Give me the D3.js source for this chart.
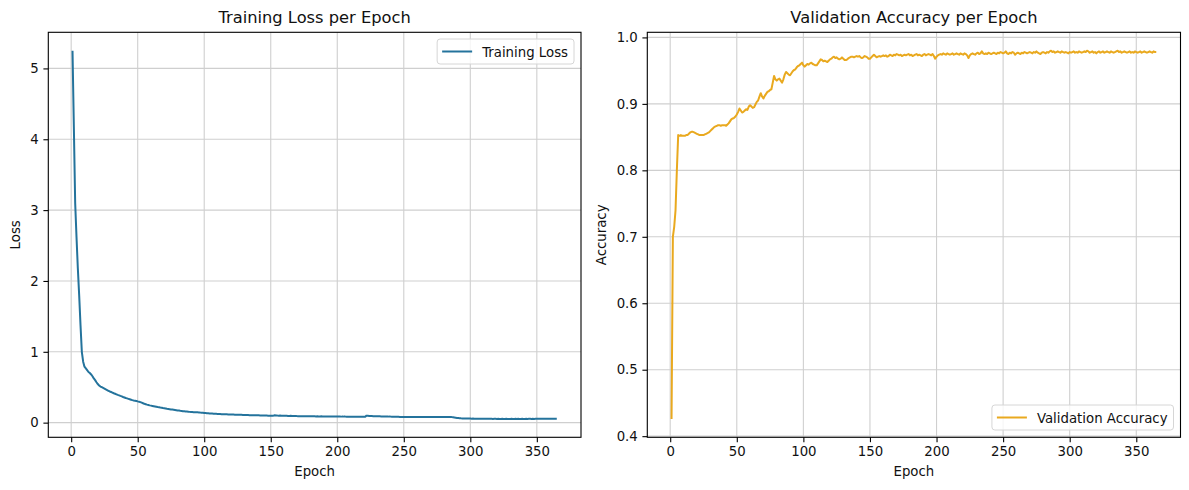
<!DOCTYPE html>
<html>
<head>
<meta charset="utf-8">
<script src="https://cdn.jsdelivr.net/npm/d3@7/dist/d3.min.js"></script>
<style>
  html, body { margin: 0; padding: 0; background: #fff; }
  svg { display: block; font-family: "DejaVu Sans", sans-serif; }
</style>
</head>
<body>
<svg id="chart" width="1189" height="490"></svg>
<script>
// epochs 1..365
const epochs = d3.range(1, 366);

const xTicks = [0, 50, 100, 150, 200, 250, 300, 350];
const lossTicks = [0, 1, 2, 3, 4, 5];
const accTicks = [0.4, 0.5, 0.6, 0.7, 0.8, 0.9, 1.0];

// training loss
const trainLoss = [
  5.25, 4.18, 3.10, 2.62, 2.18, 1.80, 1.38, 1.00, 0.86, 0.79,
  0.765, 0.74, 0.715, 0.70, 0.68, 0.655, 0.625, 0.60, 0.57, 0.545,
  0.525, 0.51, 0.50, 0.49, 0.48, 0.47, 0.46, 0.45, 0.44, 0.432,
  0.424, 0.415, 0.408, 0.400, 0.392, 0.385, 0.377, 0.370, 0.362, 0.355,
  0.348, 0.342, 0.336, 0.330, 0.324, 0.318, 0.313, 0.310, 0.306, 0.300,
  0.296, 0.290, 0.282, 0.274, 0.266, 0.260, 0.254, 0.249, 0.244, 0.240,
  0.236, 0.232, 0.228, 0.224, 0.220, 0.217, 0.213, 0.210, 0.206, 0.203,
  0.200, 0.196, 0.193, 0.190, 0.187, 0.184, 0.181, 0.178, 0.175, 0.172,
  0.170, 0.167, 0.165, 0.162, 0.160, 0.158, 0.156, 0.154, 0.152, 0.150,
  0.149, 0.147, 0.146, 0.146, 0.145, 0.144, 0.142, 0.141, 0.139, 0.137,
  0.135, 0.133, 0.132, 0.130, 0.129, 0.128, 0.126, 0.125, 0.124, 0.123,
  0.122, 0.121, 0.120, 0.119, 0.118, 0.118, 0.117, 0.116, 0.116, 0.115,
  0.114, 0.114, 0.113, 0.112, 0.112, 0.111, 0.110, 0.110, 0.109, 0.109,
  0.108, 0.108, 0.107, 0.106, 0.106, 0.105, 0.105, 0.104, 0.104, 0.103,
  0.103, 0.102, 0.102, 0.101, 0.101, 0.100, 0.100, 0.099, 0.099, 0.098,
  0.098, 0.099, 0.104, 0.102, 0.100, 0.099, 0.101, 0.098, 0.097, 0.097,
  0.096, 0.097, 0.095, 0.095, 0.096, 0.094, 0.094, 0.093, 0.094, 0.092,
  0.092, 0.091, 0.092, 0.091, 0.091, 0.090, 0.090, 0.091, 0.090, 0.089,
  0.090, 0.089, 0.089, 0.088, 0.089, 0.088, 0.088, 0.089, 0.088, 0.087,
  0.088, 0.087, 0.087, 0.088, 0.087, 0.086, 0.087, 0.086, 0.086, 0.087,
  0.086, 0.086, 0.085, 0.086, 0.085, 0.085, 0.084, 0.085, 0.084, 0.084,
  0.084, 0.083, 0.084, 0.083, 0.083, 0.082, 0.083, 0.082, 0.082, 0.082,
  0.083, 0.099, 0.097, 0.095, 0.094, 0.093, 0.092, 0.091, 0.091, 0.090,
  0.089, 0.089, 0.088, 0.088, 0.087, 0.087, 0.086, 0.086, 0.085, 0.085,
  0.084, 0.084, 0.083, 0.083, 0.082, 0.082, 0.081, 0.081, 0.080, 0.080,
  0.080, 0.079, 0.080, 0.079, 0.079, 0.080, 0.079, 0.078, 0.079, 0.078,
  0.079, 0.078, 0.079, 0.078, 0.078, 0.079, 0.078, 0.078, 0.079, 0.078,
  0.078, 0.079, 0.078, 0.078, 0.079, 0.078, 0.078, 0.079, 0.078, 0.079,
  0.078, 0.079, 0.079, 0.080, 0.079, 0.078, 0.076, 0.073, 0.070, 0.067,
  0.065, 0.063, 0.061, 0.060, 0.059, 0.058, 0.058, 0.057, 0.057, 0.057,
  0.056, 0.057, 0.056, 0.056, 0.055, 0.056, 0.055, 0.055, 0.055, 0.054,
  0.055, 0.054, 0.054, 0.055, 0.054, 0.054, 0.053, 0.054, 0.054, 0.053,
  0.054, 0.053, 0.053, 0.054, 0.053, 0.053, 0.054, 0.053, 0.053, 0.053,
  0.054, 0.053, 0.053, 0.054, 0.053, 0.054, 0.053, 0.053, 0.054, 0.053,
  0.053, 0.054, 0.053, 0.054, 0.054, 0.053, 0.054, 0.053, 0.054, 0.054,
  0.055, 0.054, 0.054, 0.055, 0.054, 0.055, 0.054, 0.055, 0.055, 0.054,
  0.055, 0.055, 0.054, 0.055, 0.055
];

// validation accuracy
const valAcc = [
  0.426, 0.700, 0.715, 0.740, 0.800, 0.853, 0.852, 0.853, 0.852, 0.852,
  0.852, 0.853, 0.853, 0.855, 0.857, 0.858, 0.858, 0.857, 0.856, 0.855,
  0.854, 0.853, 0.853, 0.853, 0.853, 0.854, 0.855, 0.856, 0.857, 0.859,
  0.861, 0.863, 0.865, 0.866, 0.867, 0.868, 0.868, 0.867, 0.868, 0.868,
  0.868, 0.867, 0.869, 0.871, 0.874, 0.877, 0.878, 0.879, 0.881, 0.884,
  0.888, 0.893, 0.890, 0.887, 0.888, 0.890, 0.892, 0.891, 0.896, 0.898,
  0.896, 0.894, 0.895, 0.899, 0.903, 0.905, 0.911, 0.916, 0.911, 0.908,
  0.912, 0.915, 0.918, 0.919, 0.921, 0.922, 0.932, 0.942, 0.937, 0.935,
  0.937, 0.938, 0.935, 0.932, 0.937, 0.944, 0.948, 0.946, 0.944, 0.943,
  0.946, 0.949, 0.951, 0.952, 0.955, 0.957, 0.958, 0.960, 0.962, 0.958,
  0.956, 0.958, 0.960, 0.959, 0.961, 0.962, 0.960, 0.959, 0.958, 0.958,
  0.961, 0.964, 0.967, 0.966, 0.964, 0.965, 0.964, 0.963, 0.965, 0.967,
  0.968, 0.970, 0.971, 0.969, 0.970, 0.968, 0.967, 0.968, 0.970, 0.968,
  0.966, 0.966, 0.967, 0.969, 0.970, 0.971, 0.971, 0.970, 0.971, 0.972,
  0.971, 0.972, 0.970, 0.969, 0.970, 0.972, 0.971, 0.970, 0.968, 0.968,
  0.970, 0.972, 0.974, 0.972, 0.970, 0.971, 0.972, 0.971, 0.972, 0.973,
  0.972, 0.973, 0.971, 0.972, 0.974, 0.973, 0.972, 0.974, 0.973, 0.975,
  0.974, 0.973, 0.974, 0.972, 0.973, 0.974, 0.973, 0.974, 0.975, 0.973,
  0.974, 0.972, 0.973, 0.974, 0.975, 0.973, 0.974, 0.973, 0.972, 0.974,
  0.975, 0.973, 0.974, 0.975, 0.974, 0.973, 0.975, 0.972, 0.968, 0.971,
  0.973, 0.974, 0.975, 0.974, 0.976, 0.975, 0.974, 0.976, 0.975, 0.974,
  0.975, 0.976, 0.974, 0.975, 0.976, 0.975, 0.974, 0.976, 0.975, 0.974,
  0.976, 0.975, 0.973, 0.969, 0.973, 0.975, 0.976, 0.975, 0.974, 0.976,
  0.977, 0.975, 0.976, 0.979, 0.976, 0.975, 0.976, 0.975, 0.977, 0.976,
  0.975, 0.976, 0.977, 0.976, 0.975, 0.977, 0.976, 0.978, 0.977, 0.976,
  0.977, 0.979, 0.976, 0.975, 0.977, 0.976, 0.978, 0.977, 0.974, 0.976,
  0.977, 0.976, 0.975, 0.977, 0.976, 0.978, 0.977, 0.976, 0.977, 0.978,
  0.977, 0.976, 0.978, 0.977, 0.979, 0.977, 0.976, 0.975, 0.977, 0.978,
  0.977, 0.976, 0.978, 0.977, 0.979, 0.980, 0.978, 0.979, 0.977, 0.978,
  0.979, 0.978, 0.977, 0.979, 0.978, 0.977, 0.978, 0.977, 0.976, 0.978,
  0.977, 0.978, 0.979, 0.977, 0.978, 0.977, 0.979, 0.978, 0.977, 0.978,
  0.979, 0.978, 0.980, 0.979, 0.977, 0.978, 0.979, 0.977, 0.978, 0.976,
  0.978, 0.979, 0.977, 0.978, 0.979, 0.977, 0.978, 0.979, 0.978, 0.977,
  0.979, 0.978, 0.977, 0.978, 0.979, 0.980, 0.978, 0.979, 0.977, 0.978,
  0.979, 0.978, 0.977, 0.978, 0.979, 0.977, 0.978, 0.977, 0.979, 0.978,
  0.977, 0.978, 0.979, 0.977, 0.978, 0.979, 0.978, 0.977, 0.978, 0.979,
  0.978, 0.977, 0.979, 0.978, 0.978
];

const svg = d3.select('#chart');

const TICK_FONT = 13.3;
const TITLE_FONT = 16.3;

// matplotlib-style 5% data margins
function padded(ext) {
  const m = (ext[1] - ext[0]) * 0.05;
  return [ext[0] - m, ext[1] + m];
}

function drawPanel(opts) {
  const { left, right, top, bottom, values, color, title, yLabel, yTicks, yFmt, legendLabel, legendPos, yLabelX } = opts;

  const x = d3.scaleLinear().domain(padded(d3.extent(epochs))).range([left, right]);
  const y = d3.scaleLinear().domain(padded(d3.extent(values))).range([bottom, top]);

  const g = svg.append('g');

  // grid
  g.append('g').selectAll('line').data(xTicks).join('line')
    .attr('x1', d => x(d)).attr('x2', d => x(d))
    .attr('y1', top).attr('y2', bottom)
    .attr('stroke', '#cfcfcf').attr('stroke-width', 1.1);
  g.append('g').selectAll('line').data(yTicks).join('line')
    .attr('x1', left).attr('x2', right)
    .attr('y1', d => y(d)).attr('y2', d => y(d))
    .attr('stroke', '#cfcfcf').attr('stroke-width', 1.1);

  // series
  const line = d3.line().x((d, i) => x(epochs[i])).y(d => y(d));
  g.append('path')
    .datum(values)
    .attr('fill', 'none')
    .attr('stroke', color)
    .attr('stroke-width', 2)
    .attr('stroke-linejoin', 'round')
    .attr('d', line);

  // axes
  const xAxis = d3.axisBottom(x).tickValues(xTicks).tickSize(4.9).tickPadding(4.6).tickFormat(d3.format('d'));
  const yAxis = d3.axisLeft(y).tickValues(yTicks).tickSize(4.9).tickPadding(4.6).tickFormat(yFmt);

  const gx = g.append('g').attr('transform', `translate(0,${bottom})`).call(xAxis);
  const gy = g.append('g').attr('transform', `translate(${left},0)`).call(yAxis);
  [gx, gy].forEach(a => {
    a.select('.domain').remove();
    a.selectAll('line').attr('stroke', '#000').attr('stroke-width', 1.1);
    a.selectAll('text').attr('fill', '#111').style('font-size', TICK_FONT + 'px').style('font-family', '"DejaVu Sans", sans-serif');
  });

  // frame
  g.append('rect')
    .attr('x', left).attr('y', top)
    .attr('width', right - left).attr('height', bottom - top)
    .attr('fill', 'none').attr('stroke', '#000').attr('stroke-width', 1.1);

  // title and labels
  g.append('text')
    .attr('x', (left + right) / 2).attr('y', 22.5)
    .attr('text-anchor', 'middle')
    .style('font-size', TITLE_FONT + 'px')
    .attr('fill', '#111')
    .text(title);
  g.append('text')
    .attr('x', (left + right) / 2).attr('y', 476)
    .attr('text-anchor', 'middle')
    .style('font-size', TICK_FONT + 'px')
    .attr('fill', '#111')
    .text('Epoch');
  g.append('text')
    .attr('transform', `translate(${yLabelX},${(top + bottom) / 2}) rotate(-90)`)
    .attr('text-anchor', 'middle')
    .style('font-size', TICK_FONT + 'px')
    .attr('fill', '#111')
    .text(yLabel);

  // legend
  const lg = g.append('g').attr('transform', `translate(${legendPos[0]},${legendPos[1]})`);
  const lt = lg.append('text')
    .attr('x', 45).attr('y', 5)
    .style('font-size', TICK_FONT + 'px')
    .attr('fill', '#111')
    .text(legendLabel);
  const tw = lt.node().getComputedTextLength();
  lg.insert('rect', 'text')
    .attr('x', 0).attr('y', -12.5)
    .attr('width', 45 + tw + 6).attr('height', 25)
    .attr('rx', 3)
    .attr('fill', '#fff').attr('fill-opacity', 0.8)
    .attr('stroke', '#d6d6d6').attr('stroke-width', 1);
  lg.append('line')
    .attr('x1', 5).attr('x2', 35).attr('y1', 0).attr('y2', 0)
    .attr('stroke', color).attr('stroke-width', 2);
  // right-align the legend box to the requested edge
  const bw = 45 + tw + 6;
  lg.attr('transform', `translate(${legendPos[0] - bw},${legendPos[1]})`);
}

drawPanel({
  left: 48.3, right: 581, top: 32.3, bottom: 437.3,
  values: trainLoss, color: '#24739c',
  title: 'Training Loss per Epoch', yLabel: 'Loss', yLabelX: 20,
  yTicks: lossTicks, yFmt: d3.format('d'),
  legendLabel: 'Training Loss', legendPos: [574, 51.5]
});

drawPanel({
  left: 647.3, right: 1180.5, top: 32.3, bottom: 437.3,
  values: valAcc, color: '#e9a91f',
  title: 'Validation Accuracy per Epoch', yLabel: 'Accuracy', yLabelX: 606,
  yTicks: accTicks, yFmt: d3.format('.1f'),
  legendLabel: 'Validation Accuracy', legendPos: [1173.5, 417.5]
});
</script>
</body>
</html>
